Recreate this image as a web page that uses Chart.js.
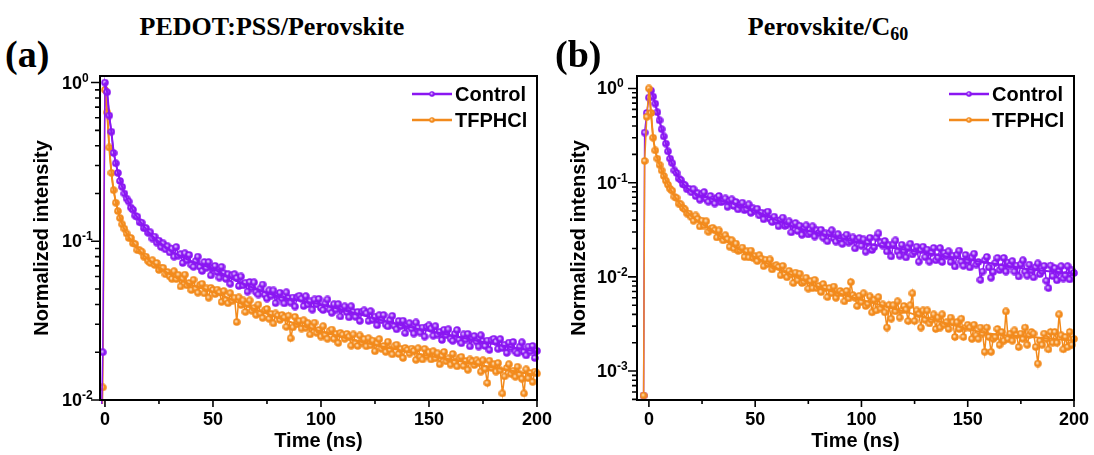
<!DOCTYPE html>
<html lang="en">
<head>
<meta charset="UTF-8">
<title>TRPL decay</title>
<script src="https://cdn.jsdelivr.net/npm/chart.js"></script>
<style>
  body { margin: 0; width: 1094px; height: 455px; position: relative; background: #fff; overflow: hidden; }
  canvas { position: absolute; top: 0; }
  #panelA { left: 0; }
  #panelB { left: 547px; }
  .head { position: absolute; font-family: "Liberation Serif", "Times New Roman", serif; font-weight: bold; color: #000; white-space: nowrap; line-height: 1; }
  .title { font-size: 26px; top: 14px; transform: translateX(-50%); }
  .tag { font-size: 38px; top: 35px; }
  .sub { font-size: 18px; position: relative; top: 5px; }
</style>
</head>
<body>
<div class="head title" style="left:272px">PEDOT:PSS/Perovskite</div>
<div class="head tag" style="left:5px">(a)</div>
<canvas id="panelA" width="565" height="455"></canvas>

<div class="head title" style="left:828px">Perovskite/C<span class="sub">60</span></div>
<div class="head tag" style="left:555px">(b)</div>
<canvas id="panelB" width="547" height="455"></canvas>

<script>
// ---- data ----
const seriesNames = ['Control', 'TFPHCl'];

// (a) PEDOT:PSS/Perovskite, 1 ns steps
const timeA = [-2, -1,
  0, 1, 2, 3, 4, 5, 6, 7, 8, 9, 10, 11, 12, 13, 14, 15, 16, 17, 18, 19,
  20, 21, 22, 23, 24, 25, 26, 27, 28, 29, 30, 31, 32, 33, 34, 35, 36, 37, 38, 39,
  40, 41, 42, 43, 44, 45, 46, 47, 48, 49, 50, 51, 52, 53, 54, 55, 56, 57, 58, 59,
  60, 61, 62, 63, 64, 65, 66, 67, 68, 69, 70, 71, 72, 73, 74, 75, 76, 77, 78, 79,
  80, 81, 82, 83, 84, 85, 86, 87, 88, 89, 90, 91, 92, 93, 94, 95, 96, 97, 98, 99,
  100, 101, 102, 103, 104, 105, 106, 107, 108, 109, 110, 111, 112, 113, 114, 115, 116, 117, 118, 119,
  120, 121, 122, 123, 124, 125, 126, 127, 128, 129, 130, 131, 132, 133, 134, 135, 136, 137, 138, 139,
  140, 141, 142, 143, 144, 145, 146, 147, 148, 149, 150, 151, 152, 153, 154, 155, 156, 157, 158, 159,
  160, 161, 162, 163, 164, 165, 166, 167, 168, 169, 170, 171, 172, 173, 174, 175, 176, 177, 178, 179,
  180, 181, 182, 183, 184, 185, 186, 187, 188, 189, 190, 191, 192, 193, 194, 195, 196, 197, 198, 199,
  200];
const controlA = [0.004, 0.02, 1.0, 0.87, 0.62, 0.49, 0.36, 0.31, 0.27, 0.24, 0.22, 0.20, 0.186,
  0.178, 0.163, 0.158, 0.145, 0.143, 0.132, 0.131, 0.121, 0.121, 0.113,
  0.114, 0.104, 0.107, 0.098, 0.101, 0.092, 0.097, 0.089, 0.093, 0.085,
  0.090, 0.080, 0.092, 0.081, 0.083, 0.073, 0.084, 0.076, 0.082, 0.071,
  0.069, 0.075, 0.080, 0.069, 0.065, 0.074, 0.068, 0.074, 0.061, 0.068,
  0.070, 0.064, 0.059, 0.069, 0.063, 0.058, 0.062, 0.054, 0.061, 0.062,
  0.0586, 0.0523, 0.060, 0.0527, 0.0548, 0.0482, 0.0554, 0.0511, 0.0551, 0.0478,
  0.0462, 0.0505, 0.0534, 0.0461, 0.0436, 0.0491, 0.0454, 0.049, 0.0408, 0.0455,
  0.0474, 0.0435, 0.0406, 0.0477, 0.0439, 0.041, 0.0442, 0.0388, 0.0444, 0.0454,
  0.0435, 0.0391, 0.0451, 0.040, 0.0418, 0.0371, 0.043, 0.040, 0.0434, 0.038,
  0.0369, 0.0406, 0.043, 0.0372, 0.0354, 0.0401, 0.0371, 0.0402, 0.0336, 0.0374,
  0.0389, 0.0357, 0.0332, 0.039, 0.0359, 0.0334, 0.0359, 0.0315, 0.036, 0.0367,
  0.0352, 0.0315, 0.0363, 0.032, 0.0335, 0.0296, 0.0342, 0.0317, 0.0343, 0.0299,
  0.0291, 0.0319, 0.0339, 0.0293, 0.0279, 0.0315, 0.0292, 0.0316, 0.0264, 0.0293,
  0.0305, 0.0281, 0.0262, 0.0308, 0.0285, 0.0266, 0.0286, 0.0251, 0.0289, 0.0295,
  0.0282, 0.0254, 0.0292, 0.0258, 0.0269, 0.0239, 0.0277, 0.0256, 0.0279, 0.0243,
  0.0236, 0.0261, 0.0276, 0.024, 0.0228, 0.0259, 0.024, 0.0261, 0.0218, 0.0243,
  0.0253, 0.0233, 0.0217, 0.0256, 0.0235, 0.0219, 0.0237, 0.0207, 0.0238, 0.0243,
  0.0233, 0.021, 0.0242, 0.0213, 0.0223, 0.0198, 0.023, 0.0214, 0.0232, 0.0202,
  0.0197, 0.0217, 0.0231, 0.0201, 0.0191, 0.0217, 0.0202, 0.0219, 0.0184, 0.0204];
const tfphclA = [0.003, 0.012, 0.90, 0.65, 0.39, 0.27, 0.21, 0.175, 0.155, 0.14, 0.128, 0.12, 0.112,
  0.105, 0.105, 0.097, 0.096, 0.088, 0.088, 0.086, 0.080, 0.080, 0.075,
  0.073, 0.076, 0.071, 0.073, 0.066, 0.068, 0.068, 0.062, 0.064, 0.060,
  0.058, 0.0648, 0.0578, 0.0615, 0.0519, 0.0582, 0.0616, 0.0528, 0.0545, 0.0493,
  0.0572, 0.0504, 0.0474, 0.053, 0.054, 0.047, 0.0505, 0.0441, 0.0509, 0.0494,
  0.0465, 0.0496, 0.0476, 0.0415, 0.0486, 0.0426, 0.0407, 0.0471, 0.0422, 0.0441,
  0.0310, 0.0443, 0.0397, 0.0424, 0.0359, 0.0402, 0.0424, 0.0365, 0.0379, 0.0344,
  0.0399, 0.0351, 0.0329, 0.0368, 0.0375, 0.0325, 0.0349, 0.0304, 0.0351, 0.034,
  0.032, 0.0343, 0.0331, 0.0289, 0.034, 0.0245, 0.0287, 0.0334, 0.030, 0.0315,
  0.0282, 0.0318, 0.0285, 0.0305, 0.0259, 0.029, 0.0307, 0.0265, 0.0276, 0.0251,
  0.0292, 0.0258, 0.0243, 0.0272, 0.0278, 0.0243, 0.0261, 0.0229, 0.0265, 0.0258,
  0.0243, 0.0261, 0.0251, 0.022, 0.0259, 0.0228, 0.0219, 0.0255, 0.023, 0.0242,
  0.0218, 0.0245, 0.0221, 0.0237, 0.0203, 0.0228, 0.0242, 0.021, 0.0219, 0.0201,
  0.0233, 0.0207, 0.0194, 0.0218, 0.0223, 0.0195, 0.021, 0.0184, 0.0213, 0.0207,
  0.0196, 0.0211, 0.0204, 0.0179, 0.0212, 0.0187, 0.018, 0.021, 0.019, 0.020,
  0.018, 0.0203, 0.0183, 0.0197, 0.0168, 0.019, 0.0201, 0.0175, 0.0183, 0.0167,
  0.0195, 0.0173, 0.0163, 0.0183, 0.0187, 0.0164, 0.0176, 0.0155, 0.018, 0.0175,
  0.0166, 0.0178, 0.0172, 0.0151, 0.0178, 0.0157, 0.0128, 0.0177, 0.0159, 0.0168,
  0.0151, 0.0171, 0.0154, 0.011, 0.0141, 0.0159, 0.0168, 0.0146, 0.0153, 0.014,
  0.0162, 0.0145, 0.0136, 0.011, 0.0156, 0.0137, 0.0148, 0.013, 0.0151, 0.0147];
const fitTimeA = [0, 1, 2, 3, 4, 6, 8, 10, 14, 20, 30, 40, 50, 60, 80, 100, 120, 140, 160, 180, 200];
const controlFitA = [1.0, 0.87, 0.62, 0.48, 0.37, 0.27, 0.22, 0.187, 0.148, 0.115, 0.088, 0.075, 0.067,
  0.057, 0.045, 0.040, 0.034, 0.029, 0.0256, 0.0225, 0.0202];
const tfphclFitA = [0.9, 0.65, 0.39, 0.27, 0.21, 0.155, 0.128, 0.112, 0.094, 0.077, 0.062, 0.053, 0.048,
  0.042, 0.033, 0.027, 0.023, 0.0201, 0.018, 0.016, 0.0143];

// (b) Perovskite/C60, 1 ns steps
const timeB = [-2.5, -2, -1,
  0, 1, 2, 3, 4, 5, 6, 7, 8, 9, 10, 11, 12, 13, 14, 15, 16, 17, 18, 19,
  20, 21, 22, 23, 24, 25, 26, 27, 28, 29, 30, 31, 32, 33, 34, 35, 36, 37, 38, 39,
  40, 41, 42, 43, 44, 45, 46, 47, 48, 49, 50, 51, 52, 53, 54, 55, 56, 57, 58, 59,
  60, 61, 62, 63, 64, 65, 66, 67, 68, 69, 70, 71, 72, 73, 74, 75, 76, 77, 78, 79,
  80, 81, 82, 83, 84, 85, 86, 87, 88, 89, 90, 91, 92, 93, 94, 95, 96, 97, 98, 99,
  100, 101, 102, 103, 104, 105, 106, 107, 108, 109, 110, 111, 112, 113, 114, 115, 116, 117, 118, 119,
  120, 121, 122, 123, 124, 125, 126, 127, 128, 129, 130, 131, 132, 133, 134, 135, 136, 137, 138, 139,
  140, 141, 142, 143, 144, 145, 146, 147, 148, 149, 150, 151, 152, 153, 154, 155, 156, 157, 158, 159,
  160, 161, 162, 163, 164, 165, 166, 167, 168, 169, 170, 171, 172, 173, 174, 175, 176, 177, 178, 179,
  180, 181, 182, 183, 184, 185, 186, 187, 188, 189, 190, 191, 192, 193, 194, 195, 196, 197, 198, 199,
  200];
const controlB = [0.00055, 0.34, 0.55, 0.80, 0.95, 0.82, 0.69, 0.56, 0.46, 0.37, 0.31, 0.26, 0.215, 0.18,
  0.161, 0.135, 0.127, 0.111, 0.107, 0.096, 0.094, 0.085, 0.086, 0.079,
  0.0853, 0.0721, 0.0773, 0.0659, 0.076, 0.0795, 0.0672, 0.0628, 0.0724, 0.0659,
  0.0601, 0.0686, 0.0723, 0.0619, 0.0635, 0.0681, 0.0554, 0.064, 0.0664, 0.0566,
  0.0623, 0.052, 0.0579, 0.0614, 0.051, 0.0523, 0.0589, 0.0478, 0.0534, 0.0504,
  0.0529, 0.0449, 0.0481, 0.0409, 0.0472, 0.0493, 0.0413, 0.0382, 0.0436, 0.0394,
  0.0345, 0.0403, 0.0426, 0.0348, 0.0359, 0.0388, 0.0297, 0.0357, 0.0373, 0.0307,
  0.0349, 0.028, 0.0324, 0.0352, 0.0282, 0.0294, 0.0344, 0.0268, 0.0312, 0.0293,
  0.0316, 0.0261, 0.0289, 0.0239, 0.0292, 0.0313, 0.0256, 0.0237, 0.0284, 0.0253,
  0.0224, 0.0265, 0.0281, 0.0231, 0.0241, 0.0262, 0.0201, 0.0244, 0.0258, 0.0214,
  0.025, 0.0185, 0.0231, 0.026, 0.0193, 0.0207, 0.0261, 0.029, 0.0232, 0.0215,
  0.0241, 0.0186, 0.0216, 0.0165, 0.0221, 0.0244, 0.0186, 0.0168, 0.0219, 0.019,
  0.0161, 0.0205, 0.0225, 0.0173, 0.0184, 0.0209, 0.0145, 0.0193, 0.0209, 0.0162,
  0.0195, 0.0145, 0.018, 0.0203, 0.015, 0.0161, 0.0202, 0.0144, 0.018, 0.0167,
  0.0187, 0.0144, 0.0168, 0.0129, 0.0172, 0.019, 0.0145, 0.0131, 0.0171, 0.0148,
  0.0126, 0.0161, 0.0176, 0.0135, 0.0144, 0.0093, 0.0114, 0.015, 0.0163, 0.0126,
  0.0098, 0.0113, 0.0141, 0.0159, 0.0118, 0.0126, 0.0159, 0.0114, 0.0142, 0.0132,
  0.0147, 0.0114, 0.0132, 0.0101, 0.0136, 0.015, 0.0114, 0.0103, 0.0135, 0.0117,
  0.0099, 0.0127, 0.0139, 0.0107, 0.0115, 0.0131, 0.0091, 0.0076, 0.0132, 0.0102,
  0.0124, 0.0092, 0.0114, 0.013, 0.0096, 0.0104, 0.013, 0.0094, 0.0117, 0.011];
const tfphclB = [0.00055, 0.17, 0.50, 1.0, 0.55, 0.30, 0.22, 0.18, 0.155, 0.135, 0.118, 0.105, 0.095, 0.086,
  0.082, 0.071, 0.069, 0.060, 0.059, 0.054, 0.052, 0.047, 0.047, 0.043,
  0.0394, 0.0449, 0.0413, 0.0343, 0.0396, 0.0351, 0.0389, 0.0301, 0.0325, 0.0332,
  0.0312, 0.0262, 0.0311, 0.0266, 0.0244, 0.0277, 0.0252, 0.0209, 0.0245, 0.020,
  0.0226, 0.0189, 0.0192, 0.0205, 0.0163, 0.0187, 0.0161, 0.019, 0.0159, 0.0166,
  0.0147, 0.017, 0.0156, 0.013, 0.0152, 0.0137, 0.0153, 0.012, 0.013, 0.0133,
  0.0127, 0.0104, 0.0131, 0.0108, 0.0099, 0.0116, 0.0106, 0.0086, 0.0111, 0.0092,
  0.0108, 0.0086, 0.0089, 0.0098, 0.0075, 0.009, 0.0076, 0.0093, 0.0076, 0.008,
  0.0069, 0.0084, 0.0076, 0.0061, 0.0076, 0.0067, 0.0079, 0.006, 0.0067, 0.0071,
  0.0067, 0.0055, 0.0071, 0.0059, 0.0088, 0.0064, 0.006, 0.0049, 0.0063, 0.0054,
  0.0067, 0.0049, 0.0052, 0.0062, 0.0042, 0.0057, 0.0044, 0.0061, 0.0046, 0.0051,
  0.0042, 0.0029, 0.005, 0.0036, 0.005, 0.0043, 0.0055, 0.0037, 0.0044, 0.0049,
  0.0045, 0.0034, 0.005, 0.0067, 0.0034, 0.0044, 0.004, 0.0029, 0.0044, 0.0035,
  0.0044, 0.0032, 0.0035, 0.004, 0.0028, 0.0037, 0.0029, 0.004, 0.0031, 0.0033,
  0.0028, 0.0037, 0.0033, 0.0023, 0.0033, 0.0028, 0.0036, 0.0023, 0.0029, 0.0031,
  0.0029, 0.0022, 0.0031, 0.0024, 0.0022, 0.0029, 0.0025, 0.0016, 0.0029, 0.0023,
  0.0016, 0.0022, 0.0023, 0.0028, 0.0019, 0.0026, 0.0021, 0.0043, 0.0022, 0.0025,
  0.0021, 0.0027, 0.0024, 0.0018, 0.0025, 0.0022, 0.0029, 0.0019, 0.0024, 0.0026,
  0.0025, 0.0018, 0.0012, 0.0021, 0.0019, 0.0025, 0.0022, 0.0017, 0.0026, 0.002,
  0.0026, 0.002, 0.004, 0.0024, 0.0017, 0.0023, 0.0018, 0.0026, 0.0019, 0.0022];
const fitTimeB = [0, 1, 2, 3, 4, 6, 8, 10, 14, 20, 30, 40, 50, 60, 70, 80, 100, 120, 140, 160, 180, 200];
const controlFitB = [0.80, 0.95, 0.82, 0.69, 0.56, 0.37, 0.26, 0.18, 0.113, 0.081, 0.067, 0.060, 0.050,
  0.040, 0.033, 0.029, 0.023, 0.0195, 0.0165, 0.014, 0.012, 0.0108];
const tfphclFitB = [1.0, 0.55, 0.30, 0.22, 0.18, 0.135, 0.105, 0.086, 0.062, 0.044, 0.031, 0.021, 0.0162,
  0.0124, 0.0098, 0.0078, 0.0057, 0.0043, 0.0032, 0.0025, 0.0023, 0.0021];

// axis labels
const xMajorTicks = [0, 50, 100, 150, 200];
const xMinorTicks = [25, 75, 125, 175];
const decadesA = [-2, -1, 0];
const decadesB = [-3, -2, -1, 0];

// ---- style ----
const PURPLE = '#8a16f2';
const ORANGE = '#f28a1c';
const FONT = '"Liberation Sans", Arial, sans-serif';

// shaded ball used as point marker
function ball(color, light, d) {
  const c = document.createElement('canvas');
  c.width = c.height = d;
  const g = c.getContext('2d');
  const r = d / 2;
  const grd = g.createRadialGradient(r - 0.8, r - 0.8, 0.3, r, r, r);
  grd.addColorStop(0, light);
  grd.addColorStop(0.5, color);
  grd.addColorStop(1, color);
  g.fillStyle = grd;
  g.beginPath();
  g.arc(r, r, r - 0.2, 0, Math.PI * 2);
  g.fill();
  return c;
}
const ballPurple = ball(PURPLE, '#e4ccff', 8);
const ballOrange = ball(ORANGE, '#ffe2bd', 8);

const pts = (t, v) => t.map((x, i) => ({ x: x, y: v[i] }));

// frame, tick marks, y labels with exponents, legend
const axisDecor = {
  id: 'axisDecor',
  afterDatasetsDraw(chart, _args, o) {
    const { ctx, chartArea: a, scales: { x, y } } = chart;
    ctx.save();
    ctx.strokeStyle = '#000';
    ctx.lineWidth = 1.6;
    ctx.beginPath();
    o.xMajor.forEach(v => {
      const p = x.getPixelForValue(v);
      ctx.moveTo(p, a.bottom); ctx.lineTo(p, a.bottom + 7);
    });
    o.xMinor.forEach(v => {
      const p = x.getPixelForValue(v);
      ctx.moveTo(p, a.bottom); ctx.lineTo(p, a.bottom + 4);
    });
    const d0 = Math.floor(Math.log10(y.min)), d1 = Math.ceil(Math.log10(y.max));
    for (let d = d0; d <= d1; d++) {
      for (let m = 1; m <= 9; m++) {
        const v = m * Math.pow(10, d);
        if (v < y.min || v > y.max) continue;
        const p = y.getPixelForValue(v);
        ctx.moveTo(a.left, p); ctx.lineTo(a.left - (m === 1 ? 9 : 5), p);
      }
    }
    ctx.stroke();

    ctx.lineWidth = 2;
    ctx.strokeRect(a.left, a.top, a.right - a.left, a.bottom - a.top);

    ctx.fillStyle = '#000';
    o.decades.forEach(d => {
      const p = y.getPixelForValue(Math.pow(10, d));
      const xr = a.left - o.labelGap;
      ctx.font = 'bold 18px ' + FONT;
      ctx.textAlign = 'right';
      ctx.textBaseline = 'middle';
      ctx.fillText('10', xr, p + 1);
      ctx.font = 'bold 12px ' + FONT;
      ctx.textAlign = 'left';
      ctx.textBaseline = 'alphabetic';
      ctx.fillText(d === 0 ? '0' : '-' + Math.abs(d), xr, p - 1);
    });

    chart.data.datasets.filter(ds => !ds.isFit).forEach((ds, i) => {
      const yy = o.legendY[i];
      ctx.strokeStyle = ds.borderColor;
      ctx.lineWidth = 2.5;
      ctx.beginPath();
      ctx.moveTo(o.legendX, yy); ctx.lineTo(o.legendX + 40, yy);
      ctx.stroke();
      ctx.drawImage(ds.pointStyle, o.legendX + 17, yy - 3, 6, 6);
      ctx.font = 'bold 20px ' + FONT;
      ctx.textAlign = 'left';
      ctx.textBaseline = 'middle';
      ctx.fillStyle = '#000';
      ctx.fillText(ds.label, o.legendX + 43, yy + 1);
    });
    ctx.restore();
  }
};

function dataSet(label, t, v, color, sprite, order) {
  return { label: label, data: pts(t, v), borderColor: color, borderWidth: 1.5,
    pointStyle: sprite, pointRadius: 4, tension: 0, order: order, clip: 4 };
}
function fitSet(t, v, color, order) {
  return { isFit: true, data: pts(t, v), borderColor: color, borderWidth: 2,
    pointRadius: 0, cubicInterpolationMode: 'monotone', order: order, clip: 2 };
}

function panel(id, datasets, p) {
  return new Chart(document.getElementById(id), {
    type: 'line',
    data: { datasets: datasets },
    options: {
      responsive: false,
      animation: false,
      devicePixelRatio: 1,
      layout: { padding: { left: 0, top: 76, right: p.padRight, bottom: 0 } },
      plugins: {
        legend: { display: false },
        tooltip: { enabled: false },
        axisDecor: { xMajor: xMajorTicks, xMinor: xMinorTicks, decades: p.decades,
          labelGap: p.labelGap, legendX: p.legendX, legendY: [94, 120] }
      },
      scales: {
        x: {
          type: 'linear', min: p.xMin, max: 200,
          border: { display: false },
          grid: { display: false, drawTicks: false },
          ticks: { autoSkip: false, maxRotation: 0,
            padding: 9, color: '#000', font: { family: FONT, weight: 'bold', size: 18 } },
          afterBuildTicks(s) { s.ticks = xMajorTicks.map(v => ({ value: v })); },
          title: { display: true, text: 'Time (ns)', color: '#000',
            font: { family: FONT, weight: 'bold', size: 20 }, padding: { top: 0, bottom: 2 } },
          afterFit(s) { s.height = 55; s.paddingLeft = 0; s.paddingRight = 0; }
        },
        y: {
          type: 'logarithmic', min: p.yMin, max: p.yMax,
          border: { display: false },
          grid: { display: false, drawTicks: false },
          ticks: { display: false },
          title: { display: true, text: 'Normalized intensity', color: '#000',
            font: { family: FONT, weight: 'bold', size: 20 }, padding: { top: p.yTitlePad, bottom: 0 } },
          afterFit(s) { s.width = p.yWidth; }
        }
      }
    },
    plugins: [axisDecor]
  });
}

panel('panelA', [
  dataSet(seriesNames[0], timeA, controlA, PURPLE, ballPurple, 1),
  dataSet(seriesNames[1], timeA, tfphclA, ORANGE, ballOrange, 3),
  fitSet(fitTimeA, controlFitA, PURPLE, 0),
  fitSet(fitTimeA, tfphclFitA, ORANGE, 2)
], { xMin: -2.3, yMin: 0.01, yMax: 1.1, decades: decadesA, padRight: 28, yWidth: 100,
     yTitlePad: 30, labelGap: 18, legendX: 412 });

panel('panelB', [
  dataSet(seriesNames[0], timeB, controlB, PURPLE, ballPurple, 3),
  dataSet(seriesNames[1], timeB, tfphclB, ORANGE, ballOrange, 1),
  fitSet(fitTimeB, controlFitB, PURPLE, 2),
  fitSet(fitTimeB, tfphclFitB, ORANGE, 0)
], { xMin: -5.6, yMin: 0.000493, yMax: 1.357, decades: decadesB, padRight: 20, yWidth: 90,
     yTitlePad: 20, labelGap: 20, legendX: 402 });
</script>
</body>
</html>
